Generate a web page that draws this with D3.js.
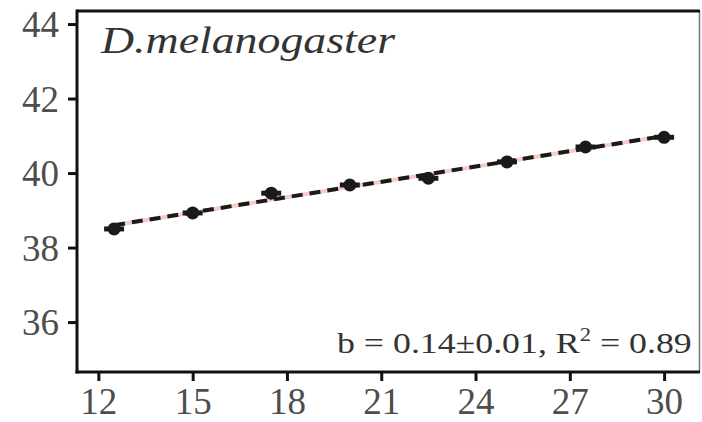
<!DOCTYPE html>
<html>
<head>
<meta charset="utf-8">
<script src="https://cdn.jsdelivr.net/npm/d3@7"></script>
<style>
  html, body { margin: 0; padding: 0; background: #fff; }
  svg { display: block; }
  .tick-label { font-family: "Liberation Serif", "Times New Roman", serif; fill: #4d4d4d; }
</style>
</head>
<body>
<svg id="chart" width="702" height="422"></svg>
<script>
// Temperature (x) and mean value (y)
const temps = [12.5, 15, 17.5, 20, 22.5, 25, 27.5, 30];
const means = [38.5, 38.93, 39.46, 39.68, 39.86, 40.3, 40.7, 40.96];
const errs = [0.08, 0.08, 0.09, 0.08, 0.08, 0.08, 0.08, 0.08];

const xTicks = [12, 15, 18, 21, 24, 27, 30];
const yTicks = [36, 38, 40, 42, 44];

const title = "D.melanogaster";
const statText = "b = 0.14±0.01, R";
const statSup = "2";
const statTail = " = 0.89";

const width = 702, height = 422;
const margin = { top: 11, right: 3, bottom: 50, left: 77 };

const svg = d3.select("#chart");

// Scales
const x = d3.scaleLinear()
    .domain([11.32, 31.11])
    .range([margin.left, width - margin.right]);

const y = d3.scaleLinear()
    .domain([34.66, 44.35])
    .range([height - margin.bottom, margin.top]);

// Least squares fit from the points
const mx = d3.mean(temps), my = d3.mean(means);
const slope = d3.sum(temps, (t, i) => (t - mx) * (means[i] - my)) / d3.sum(temps, t => (t - mx) * (t - mx));
const intercept = my - slope * mx;
const fitX = d3.extent(temps);

// Fit line: pink under black dashed
const fitLine = d3.line().x(d => x(d)).y(d => y(intercept + slope * d));
svg.append("path")
    .datum(fitX)
    .attr("d", fitLine)
    .attr("stroke", "#f8cbc4")
    .attr("stroke-width", 4)
    .attr("fill", "none");

// Error bars
const pts = temps.map((t, i) => ({ t: t, m: means[i], e: errs[i] }));
const eb = svg.append("g");
eb.selectAll("line.v").data(pts).join("line")
    .attr("x1", d => x(d.t)).attr("x2", d => x(d.t))
    .attr("y1", d => y(d.m - d.e)).attr("y2", d => y(d.m + d.e))
    .attr("stroke", "#1a1a1a").attr("stroke-width", 5);
eb.selectAll("line.h").data(pts).join("line")
    .attr("x1", d => x(d.t) - 10).attr("x2", d => x(d.t) + 10)
    .attr("y1", d => y(d.m)).attr("y2", d => y(d.m))
    .attr("stroke", "#1a1a1a").attr("stroke-width", 5);

// Points
svg.append("g").selectAll("circle").data(pts).join("circle")
    .attr("cx", d => x(d.t))
    .attr("cy", d => y(d.m))
    .attr("r", 6.5)
    .attr("fill", "#1a1a1a");

svg.append("path")
    .datum(fitX)
    .attr("d", fitLine)
    .attr("stroke", "#1a1a1a")
    .attr("stroke-width", 4)
    .attr("stroke-dasharray", "11,7")
    .attr("fill", "none");

// Panel border: thin grey on the right, black on top
svg.append("line")
    .attr("x1", width - margin.right + 0.5).attr("x2", width - margin.right + 0.5)
    .attr("y1", margin.top).attr("y2", height - margin.bottom)
    .attr("stroke", "#777").attr("stroke-width", 1.5);
svg.append("line")
    .attr("x1", margin.left).attr("x2", width - margin.right + 1)
    .attr("y1", margin.top).attr("y2", margin.top)
    .attr("stroke", "#111").attr("stroke-width", 3);

// Axes
const xAxis = d3.axisBottom(x).tickValues(xTicks).tickSize(9).tickPadding(5).tickSizeOuter(0);
const yAxis = d3.axisLeft(y).tickValues(yTicks).tickSize(9).tickPadding(9).tickSizeOuter(0);

const gx = svg.append("g")
    .attr("transform", `translate(0,${height - margin.bottom})`)
    .call(xAxis);
const gy = svg.append("g")
    .attr("transform", `translate(${margin.left},0)`)
    .call(yAxis);

[gx, gy].forEach(g => {
    g.select(".domain").attr("stroke", "#111").attr("stroke-width", 3);
    g.selectAll(".tick line").attr("stroke", "#111").attr("stroke-width", 3);
    g.selectAll(".tick text")
        .attr("class", "tick-label")
        .style("font-size", "37px")
        .attr("fill", "#4d4d4d");
});
gx.select(".domain").attr("d", `M${margin.left - 1.5},0H${width - margin.right + 1}`);
gy.select(".domain").attr("d", `M0,${margin.top - 1.5}V${height - margin.bottom + 1.5}`);
gx.selectAll(".tick text").attr("dy", "0.76em");
gy.selectAll(".tick text").attr("dy", "0.34em");

// Title
svg.append("text")
    .attr("x", 101)
    .attr("y", 53)
    .attr("textLength", 294)
    .attr("lengthAdjust", "spacingAndGlyphs")
    .style("font-family", "'Liberation Serif', 'Times New Roman', serif")
    .style("font-style", "italic")
    .style("font-size", "38px")
    .attr("fill", "#333")
    .text(title);

// Regression statistics
const st = svg.append("text")
    .attr("x", 337)
    .attr("y", 353)
    .style("font-family", "'Liberation Serif', 'Times New Roman', serif")
    .style("font-size", "30px")
    .attr("fill", "#333");
st.append("tspan").text(statText);
st.append("tspan").attr("dy", -12).style("font-size", "19px").text(statSup);
st.append("tspan").attr("dy", 12).text(statTail);
const stW = st.node().getComputedTextLength();
st.attr("transform", `translate(337,0) scale(${355 / stW},1) translate(-337,0)`);
</script>
</body>
</html>
